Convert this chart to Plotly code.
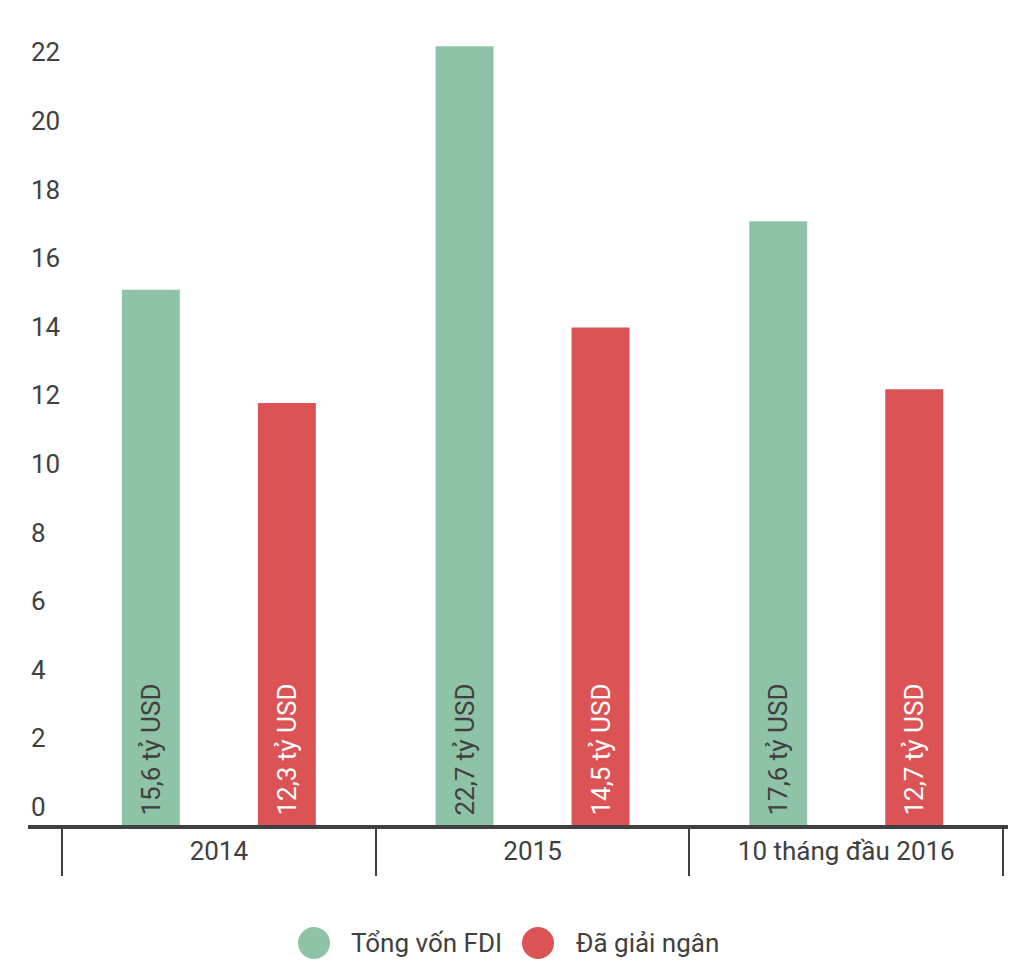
import plotly.graph_objects as go

categories = ["2014", "2015", "10 tháng đầu 2016"]
tong_von = [15.6, 22.7, 17.6]
da_giai_ngan = [12.3, 14.5, 12.7]
series_names = ["Tổng vốn FDI", "Đã giải ngân"]
y_ticks = [0, 2, 4, 6, 8, 10, 12, 14, 16, 18, 20, 22]
unit = " tỷ USD"

GREEN = "#8FC3A7"
RED = "#DC5356"
TEXT = "#404040"
FONT = "Roboto"
FS = 26


def lab(v):
    return "\u00a0" + f"{v:.1f}".replace(".", ",") + unit


fig = go.Figure()
fig.add_trace(go.Bar(
    x=categories, y=tong_von, name=series_names[0],
    marker=dict(color=GREEN, line=dict(width=0)),
    text=[lab(v) for v in tong_von], textposition="inside",
    insidetextanchor="start", textangle=-90,
    insidetextfont=dict(family=FONT, size=FS, color=TEXT),
    showlegend=False, hoverinfo="skip",
))
fig.add_trace(go.Bar(
    x=categories, y=da_giai_ngan, name=series_names[1],
    marker=dict(color=RED, line=dict(width=0)),
    text=[lab(v) for v in da_giai_ngan], textposition="inside",
    insidetextanchor="start", textangle=-90,
    insidetextfont=dict(family=FONT, size=FS, color="white"),
    showlegend=False, hoverinfo="skip",
))

L, R, T, B = 28, 22, 36, 149
W, H = 1030, 974
pw = W - L - R
ph = H - T - B
cat_px = 313.7
x0 = -0.5 - (62 - L) / cat_px
x1 = x0 + pw / cat_px

shapes = []
annotations = []
legend_items = [(series_names[0], GREEN, 314, 349), (series_names[1], RED, 538, 574)]
for name, col, cx, tx in legend_items:
    shapes.append(dict(
        type="circle", xref="paper", yref="paper",
        xsizemode="pixel", ysizemode="pixel",
        xanchor=(cx - L) / pw, yanchor=(H - B - 943) / ph,
        x0=-16, x1=16, y0=-16, y1=16,
        fillcolor=col, line=dict(width=0),
    ))
    annotations.append(dict(
        text=name, xref="paper", yref="paper",
        x=(tx - L) / pw, y=(H - B - 943) / ph,
        xanchor="left", yanchor="middle", showarrow=False,
        font=dict(family=FONT, size=FS, color=TEXT),
    ))

fig.update_layout(
    width=W, height=H,
    margin=dict(l=L, r=R, t=T, b=B),
    paper_bgcolor="white", plot_bgcolor="white",
    barmode="group", bargap=0.133, bargroupgap=0.574,
    font=dict(family=FONT, size=FS, color=TEXT),
    shapes=shapes, annotations=annotations,
    xaxis=dict(
        type="category", range=[x0, x1],
        showline=True, linewidth=4, linecolor=TEXT,
        ticks="outside", tickson="boundaries", ticklen=47,
        tickwidth=2, tickcolor=TEXT,
        ticklabelstandoff=0,
        tickfont=dict(family=FONT, size=FS, color=TEXT),
        showgrid=False, zeroline=False, fixedrange=True,
    ),
    yaxis=dict(
        range=[0, 23], tickvals=y_ticks, ticktext=[str(v) for v in y_ticks],
        ticklabelposition="inside", ticklabelshift=-18,
        tickfont=dict(family=FONT, size=FS, color=TEXT),
        showgrid=False, zeroline=False, showline=False, ticks="",
        fixedrange=True,
    ),
)

fig.write_html("out.html", config={"displayModeBar": False},
               post_script="document.body.style.margin='0';")
